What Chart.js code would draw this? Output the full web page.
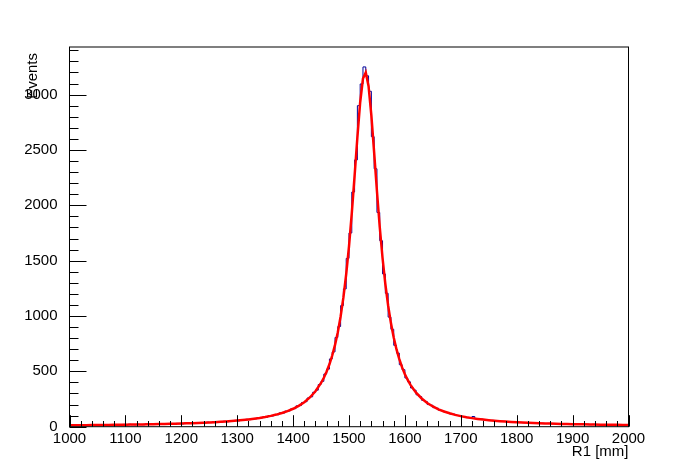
<!DOCTYPE html>
<html>
<head>
<meta charset="utf-8">
<script src="https://cdn.jsdelivr.net/npm/chart.js@4"></script>
<style>
  body { margin: 0; background: #fff; }
  canvas { display: block; }
</style>
</head>
<body>
<canvas id="histo" width="698" height="474"></canvas>
<script>
// histogram: 200 bins of 5 mm from 1000 to 2000
const binStart = 1000;
const binWidth = 5;
const histCounts = [
  11,15,12,16,13,12,17,14,13,18,14,17,15,19,14,16,20,15,17,21,16,22,18,17,23,19,18,24,21,20,
  26,22,21,27,24,23,29,25,30,27,26,33,29,34,31,36,
  31,38,35,41,37,43,40,46,42,49,45,53,49,57,53,62,58,67,64,73,71,80,78,88,86,99,96,110,108,125,
  123,141,142,160,163,188,191,219,226,259,270,311,330,381,410,476,520,612,676,806,
  905,1094,1245,1520,1750,2120,2410,2900,3096,3250,
  3170,3030,2620,2330,1935,1680,1380,1205,990,880,735,665,560,515,440,405,350,330,288,272,
  238,228,200,194,172,167,149,146,130,127,114,113,101,100,91,90,82,81,92,74,
  67,68,61,62,56,57,51,52,48,48,44,45,42,42,39,39,36,37,34,35,
  32,33,30,31,29,30,27,28,26,27,24,26,23,25,22,23,21,22,20,22,
  19,21,18,20,18,19,17,18,16,18,16,17,15,17
];

// fitted curve
const fitX = [
  1000,1010,1020,1030,1040,1050,1060,1070,1080,1090,1100,1110,1120,1130,1140,1150,1160,1170,1180,1190,
  1200,1210,1220,1230,1240,1250,1260,1270,1280,1290,1300,1310,1320,1330,1340,1350,1360,1370,1380,1390,
  1400,1410,1420,1430,1440,1450,
  1455,1460,1465,1470,1475,1480,1485,1490,1495,1500,1505,1510,1515,1520,1525,1530,1535,1540,1545,1550,
  1555,1560,1565,1570,1575,1580,1585,1590,1595,1600,1605,1610,
  1620,1630,1640,1650,1660,1670,1680,1690,1700,1710,1720,1730,1740,1750,1760,1770,1780,1790,1800,1810,
  1820,1830,1840,1850,1860,1870,1880,1890,1900,1910,1920,1930,1940,1950,1960,1970,1980,1990,2000
];
const fitY = [
  12.9,13.3,13.7,14.2,14.6,15.1,15.7,16.2,16.8,17.4,18.1,18.9,19.6,20.5,21.4,22.4,23.5,24.6,25.9,27.2,
  28.7,30.4,31.9,33.8,36.0,38.4,41.0,44.0,47.3,51.0,55.2,60.0,65.5,71.8,79.1,87.6,97.6,109.5,123.7,140.9,
  162,188,221,264,320,395,
  442,498,564,643,739,854,995,1168,1378,1630,1929,2265,2615,2931,3145,3199,3076,2813,2476,2127,
  1804,1524,1289,1095,936,805,698,610,536,474,422,378,
  307,255,214,183,157,137,121,107,95.5,85.8,77.6,70.5,64.4,59.0,54.4,50.2,46.6,43.4,40.5,37.9,
  35.5,33.4,31.5,29.8,28.2,26.8,25.4,24.2,23.1,22.1,21.2,20.2,19.4,18.6,17.9,17.3,16.6,16.1,15.5
];

// axis labels
const xTickValues = [1000, 1100, 1200, 1300, 1400, 1500, 1600, 1700, 1800, 1900, 2000];
const yTickValues = [0, 500, 1000, 1500, 2000, 2500, 3000];
const xMin = 1000, xMax = 2000;
const yMin = 0, yMax = 3430;
const xTitle = 'R1 [mm]';
const yTitle = 'Events';

const fontFamily = '"Liberation Sans", Arial, Helvetica, sans-serif';

// step points at bin lower edges, plus the closing edge
const histPoints = histCounts.map((v, i) => ({ x: binStart + i * binWidth, y: v }));
histPoints.push({ x: binStart + histCounts.length * binWidth, y: histCounts[histCounts.length - 1] });
const fitPoints = fitX.map((x, i) => ({ x: x, y: fitY[i] }));

// ROOT style frame, inward ticks and axis titles
const rootFrame = {
  id: 'rootFrame',
  afterDatasetsDraw(chart) {
    const ctx = chart.ctx;
    const a = chart.chartArea;
    const xs = chart.scales.x, ys = chart.scales.y;
    ctx.save();
    ctx.strokeStyle = '#000';
    ctx.lineWidth = 1;
    ctx.strokeRect(a.left, a.top, a.right - a.left, a.bottom - a.top);

    ctx.beginPath();
    for (let v = xMin; v <= xMax; v += 20) {
      const px = Math.round(xs.getPixelForValue(v)) + 0.5;
      const len = (v % 100 === 0) ? 11.5 : 5.7;
      ctx.moveTo(px, a.bottom);
      ctx.lineTo(px, a.bottom - len);
    }
    for (let v = 0; v <= yMax; v += 100) {
      const py = Math.round(ys.getPixelForValue(v)) + 0.5;
      const len = (v % 500 === 0) ? 17 : 9;
      ctx.moveTo(a.left, py);
      ctx.lineTo(a.left + len, py);
    }
    ctx.stroke();

    ctx.fillStyle = '#000';
    ctx.font = '15px ' + fontFamily;
    ctx.textAlign = 'right';
    ctx.textBaseline = 'alphabetic';
    ctx.fillText(xTitle, a.right, 456);

    ctx.translate(37, 53);
    ctx.rotate(-Math.PI / 2);
    ctx.textAlign = 'right';
    ctx.fillText(yTitle, 0, 0);
    ctx.restore();
  }
};

const ctx = document.getElementById('histo').getContext('2d');
new Chart(ctx, {
  type: 'line',
  data: {
    datasets: [
      {
        label: 'fit',
        data: fitPoints,
        borderColor: '#ff0000',
        borderWidth: 2.5,
        pointRadius: 0,
        tension: 0,
        fill: false,
        order: 0
      },
      {
        label: 'R1',
        data: histPoints,
        borderColor: '#000099',
        borderWidth: 1,
        pointRadius: 0,
        stepped: true,
        fill: false,
        order: 1
      }
    ]
  },
  options: {
    responsive: false,
    devicePixelRatio: 1,
    animation: false,
    layout: { padding: { top: 47, right: 69.5, left: 0, bottom: 0 } },
    plugins: {
      legend: { display: false },
      tooltip: { enabled: false }
    },
    scales: {
      x: {
        type: 'linear',
        min: xMin,
        max: xMax,
        grid: { display: false },
        border: { display: false },
        ticks: {
          autoSkip: false,
          maxRotation: 0,
          color: '#000',
          padding: -5,
          font: { family: fontFamily, size: 15 },
          callback: (v) => String(v)
        },
        afterBuildTicks(scale) { scale.ticks = xTickValues.map(v => ({ value: v })); },
        afterFit(scale) { scale.height = 47.3; }
      },
      y: {
        type: 'linear',
        min: yMin,
        max: yMax,
        grid: { display: false },
        border: { display: false },
        ticks: {
          autoSkip: false,
          color: '#000',
          padding: 4,
          font: { family: fontFamily, size: 15 },
          callback: (v) => String(v)
        },
        afterBuildTicks(scale) { scale.ticks = yTickValues.map(v => ({ value: v })); },
        afterFit(scale) { scale.width = 69.5; }
      }
    }
  },
  plugins: [rootFrame]
});
</script>
</body>
</html>
